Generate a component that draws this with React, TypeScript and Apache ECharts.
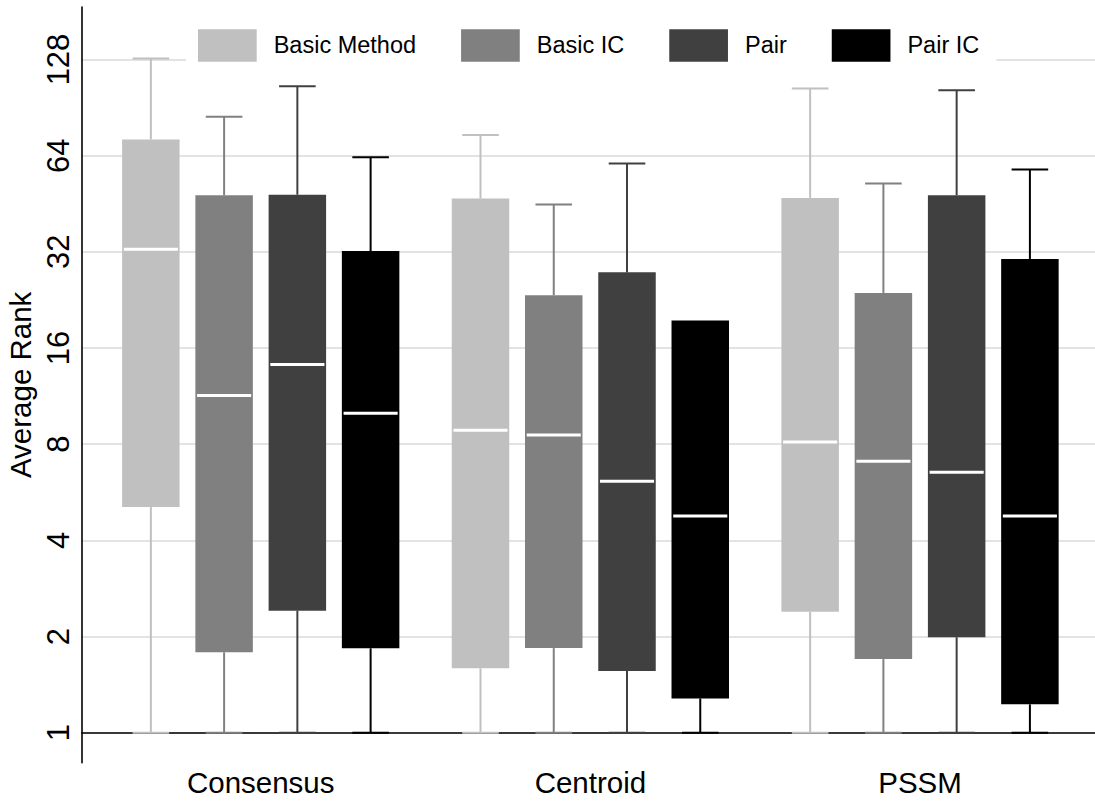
import React, { useEffect, useRef } from "react";
import * as echarts from "echarts";

const categories = ["Consensus", "Centroid", "PSSM"];
const methods = ["Basic Method", "Basic IC", "Pair", "Pair IC"];
const colors = ["#c0c0c0", "#808080", "#404040", "#000000"];
const yTicks = [1, 2, 4, 8, 16, 32, 64, 128];

// [min, q1, median, q3, max] for Consensus, Centroid, PSSM
const basicMethod = [
  [1, 5.09, 32.6, 71.9, 129],
  [1, 1.59, 8.85, 47.0, 74.3],
  [1, 2.39, 8.12, 47.2, 103.9],
];
const basicIC = [
  [1, 1.785, 11.37, 48.1, 84.7],
  [1, 1.84, 8.54, 23.4, 45.0],
  [1, 1.7, 7.08, 23.8, 52.4],
];
const pair = [
  [1, 2.41, 14.2, 48.3, 105.6],
  [1, 1.56, 6.13, 27.6, 60.5],
  [1, 1.99, 6.54, 48.1, 102.6],
];
const pairIC = [
  [1, 1.837, 9.99, 32.2, 63.3],
  [1, 1.28, 4.77, 19.5, 19.5],
  [1, 1.227, 4.77, 30.4, 57.9],
];
const seriesValues = [basicMethod, basicIC, pair, pairIC];

const dodge = [-1 / 3, -1 / 9, 1 / 9, 1 / 3];
const BOX_W = 0.1744;
const CAP_W = 0.111;
const X_MIN = 0.4578;
const X_MAX = 3.5308;
const FONT = "'Liberation Sans', Arial, Helvetica, sans-serif";

const renderItem = (params: any, api: any) => {
  const x = api.value(0);
  const color = api.visual("color");
  const bw = api.size([BOX_W, 0])[0];
  const cw = api.size([CAP_W, 0])[0];
  const p = [1, 2, 3, 4, 5].map((k) => api.coord([x, api.value(k)]));
  const cx = p[0][0];
  const lineStyle = { stroke: color, lineWidth: 2 };
  const children: any[] = [];
  if (api.value(5) > api.value(4)) {
    children.push({ type: "line", shape: { x1: cx, y1: p[3][1], x2: cx, y2: p[4][1] }, style: lineStyle });
    children.push({ type: "line", shape: { x1: cx - cw / 2, y1: p[4][1], x2: cx + cw / 2, y2: p[4][1] }, style: lineStyle });
  }
  if (api.value(1) < api.value(2)) {
    children.push({ type: "line", shape: { x1: cx, y1: p[1][1], x2: cx, y2: p[0][1] }, style: lineStyle });
    children.push({ type: "line", shape: { x1: cx - cw / 2, y1: p[0][1], x2: cx + cw / 2, y2: p[0][1] }, style: lineStyle });
  }
  children.push({
    type: "rect",
    shape: { x: cx - bw / 2, y: p[3][1], width: bw, height: p[1][1] - p[3][1] },
    style: { fill: color },
  });
  children.push({
    type: "line",
    shape: { x1: cx - bw / 2 + 1.7, y1: p[2][1], x2: cx + bw / 2 - 1.7, y2: p[2][1] },
    style: { stroke: "#ffffff", lineWidth: 3 },
  });
  return { type: "group", children };
};

export default function App() {
  const ref = useRef<HTMLDivElement>(null);
  useEffect(() => {
    if (!ref.current) return;
    const chart = echarts.init(ref.current, null, { renderer: "svg" });
    const series = methods.map((name, i) => ({
      name,
      type: "custom",
      renderItem,
      itemStyle: { color: colors[i] },
      encode: { x: 0, y: [1, 2, 3, 4, 5] },
      data: seriesValues[i].map((d, j) => [j + 1 + dodge[i], ...d.map((v) => Math.log2(v))]),
    }));
    chart.setOption({
      animation: false,
      backgroundColor: "#ffffff",
      textStyle: { fontFamily: FONT },
      grid: { left: 82, right: 0, top: 7, bottom: 38.3, outerBoundsMode: "none" },
      legend: {
        data: methods.map((m, i) => ({ name: m, icon: "rect", itemStyle: { color: colors[i] } })),
        left: 186,
        top: 26,
        padding: [3.3, 17, 3, 12],
        backgroundColor: "#ffffff",
        itemWidth: 58.7,
        itemHeight: 32.4,
        itemGap: 45,
        textStyle: { fontSize: 23.5, color: "#000000", fontFamily: FONT, padding: [0, 0, 0, 12] },
      },
      xAxis: {
        type: "value",
        min: X_MIN,
        max: X_MAX,
        axisLine: { show: true, lineStyle: { color: "#000000", width: 1.6 } },
        axisTick: { show: false, customValues: [1, 2, 3] },
        splitLine: { show: false },
        axisLabel: {
          customValues: [1, 2, 3],
          formatter: (v: number) => categories[Math.round(v) - 1],
          fontSize: 29.5,
          color: "#000000",
          margin: 5,
          fontFamily: FONT,
        },
      },
      yAxis: {
        type: "value",
        min: -0.312,
        max: 7.546,
        name: "Average Rank",
        nameLocation: "middle",
        nameGap: 44,
        nameTextStyle: { fontSize: 29.5, color: "#000000", fontFamily: FONT },
        axisLine: { show: true, lineStyle: { color: "#000000", width: 1.6 } },
        axisTick: { show: false, customValues: yTicks.map((t) => Math.log2(t)) },
        splitLine: { show: true, lineStyle: { color: "#e3e3e3", width: 2 } },
        axisLabel: {
          customValues: yTicks.map((t) => Math.log2(t)),
          formatter: (v: number) => String(Math.round(Math.pow(2, v))),
          rotate: 90,
          fontSize: 31,
          color: "#000000",
          margin: 8,
          fontFamily: FONT,
        },
      },
      series,
    });
    return () => chart.dispose();
  }, []);
  return <div ref={ref} style={{ position: "absolute", left: 0, top: 0, width: 1095, height: 801 }} />;
}
